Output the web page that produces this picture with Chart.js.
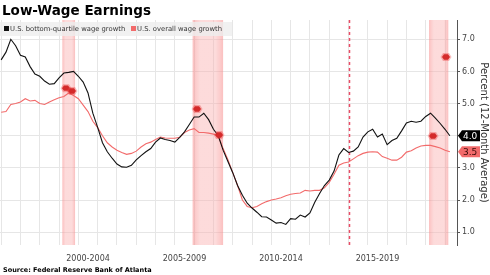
<!DOCTYPE html>
<html>
<head>
<meta charset="utf-8">
<script src="https://cdn.jsdelivr.net/npm/chart.js@4.4.1/dist/chart.umd.min.js"></script>
<style>
  html, body { margin: 0; padding: 0; background: #fff; }
  #wrap { position: relative; width: 490px; height: 275px; }
</style>
</head>
<body>
<div id="wrap"><canvas id="mainChart" width="490" height="275"></canvas></div>
<script>
'use strict';

// quarterly observations, decimal years
const dates = [
    1998, 1998.25, 1998.5, 1998.75, 1999, 1999.25, 1999.5, 1999.75,
    2000, 2000.25, 2000.5, 2000.75, 2001, 2001.25, 2001.5, 2001.75,
    2002, 2002.25, 2002.5, 2002.75, 2003, 2003.25, 2003.5, 2003.75,
    2004, 2004.25, 2004.5, 2004.75, 2005, 2005.25, 2005.5, 2005.75,
    2006, 2006.25, 2006.5, 2006.75, 2007, 2007.25, 2007.5, 2007.75,
    2008, 2008.25, 2008.5, 2008.75, 2009, 2009.25, 2009.5, 2009.75,
    2010, 2010.25, 2010.5, 2010.75, 2011, 2011.25, 2011.5, 2011.75,
    2012, 2012.25, 2012.5, 2012.75, 2013, 2013.25, 2013.5, 2013.75,
    2014, 2014.25, 2014.5, 2014.75, 2015, 2015.25, 2015.5, 2015.75,
    2016, 2016.25, 2016.5, 2016.75, 2017, 2017.25, 2017.5, 2017.75,
    2018, 2018.25, 2018.5, 2018.75, 2019, 2019.25, 2019.5, 2019.75,
    2020, 2020.25, 2020.5, 2020.75, 2021, 2021.25,
];

const bottomQuartile = [
    6.36, 6.6, 7.0, 6.8,    6.5, 6.45, 6.15, 5.92,
    5.85, 5.7, 5.6, 5.62,   5.8, 5.95, 5.97, 6.0,
    5.85, 5.67, 5.33, 4.7,  4.26, 3.78, 3.5, 3.3,
    3.12, 3.03, 3.02, 3.08, 3.25, 3.38, 3.5, 3.6,
    3.8, 3.93, 3.88, 3.85,  3.8, 3.95, 4.12, 4.35,
    4.58, 4.58, 4.7, 4.5,   4.2, 4.0, 3.55, 3.2,
    2.85, 2.45, 2.15, 1.9,  1.75, 1.62, 1.48, 1.47,
    1.38, 1.28, 1.3, 1.24,  1.42, 1.4, 1.53, 1.47,
    1.6, 1.93, 2.2, 2.45,   2.62, 2.9, 3.4, 3.6,
    3.48, 3.52, 3.65, 3.96, 4.12, 4.2, 3.96, 4.05,
    3.72, 3.85, 3.92, 4.15, 4.4, 4.45, 4.42, 4.45,
    4.6, 4.7, 4.55, 4.38,   4.2, 4.0,
];

const overall = [
    4.73, 4.75, 4.97, 5.0,  5.05, 5.15, 5.08, 5.1,
    5.0, 4.97, 5.05, 5.12,  5.18, 5.22, 5.33, 5.25,
    5.15, 4.95, 4.75, 4.45, 4.25, 4.0, 3.78, 3.65,
    3.55, 3.48, 3.42, 3.45, 3.52, 3.65, 3.75, 3.8,
    3.88, 3.96, 3.93, 3.92, 3.92, 3.95, 4.1, 4.18,
    4.22, 4.1, 4.1, 4.08,   4.05, 4.0, 3.6, 3.25,
    2.85, 2.45, 2.0, 1.8,   1.76, 1.8, 1.88, 1.95,
    2.0, 2.03, 2.07, 2.13,  2.18, 2.2, 2.22, 2.3,
    2.28, 2.3, 2.3, 2.38,   2.55, 2.8, 3.08, 3.15,
    3.18, 3.28, 3.38, 3.45, 3.49, 3.5, 3.49, 3.35,
    3.3, 3.24, 3.24, 3.33,  3.49, 3.53, 3.62, 3.68,
    3.7, 3.7, 3.66, 3.62,   3.55, 3.5,
];

const yearLines = [
    1998, 1999, 2000, 2001, 2002, 2003, 2004, 2005, 2006, 2007, 2008, 2009,
    2010, 2011, 2012, 2013, 2014, 2015, 2016, 2017, 2018, 2019, 2020, 2021,
];
const periodCenters = [2002.5, 2007.5, 2012.5, 2017.5];
const periodLabels  = ['2000-2004', '2005-2009', '2010-2014', '2015-2019'];
const yTicks = [1, 2, 3, 4, 5, 6, 7];

const recessions = [[2001.17, 2001.83], [2007.92, 2009.5], [2020.17, 2021.17]];
const dashedAt = 2016.0;

const markerYears  = [2001.36, 2001.67, 2008.15, 2009.29, 2020.38, 2021.05];
const markerValues = [5.48, 5.39, 4.83, 4.02, 3.99, 6.45];

const FONT = 'DejaVu Sans, Verdana, sans-serif';
const BLACK = '#111111';
const RED = '#f26b6b';

const toPoints = vals => vals.map((v, i) => ({ x: dates[i], y: v }));

const decor = {
    id: 'decor',
    beforeDatasetsDraw(chart) {
        const { ctx, chartArea: { top, bottom }, scales: { x } } = chart;
        ctx.save();
        recessions.forEach(([a, b]) => {
            const x0 = x.getPixelForValue(a), x1 = x.getPixelForValue(b);
            const g = ctx.createLinearGradient(x0, 0, x1, 0);
            g.addColorStop(0, 'rgba(248,140,140,0.55)');
            g.addColorStop(0.25, 'rgba(250,175,175,0.45)');
            g.addColorStop(0.75, 'rgba(250,175,175,0.45)');
            g.addColorStop(1, 'rgba(248,140,140,0.55)');
            ctx.fillStyle = g;
            ctx.fillRect(x0, top, x1 - x0, bottom - top);
        });
        const xd = Math.round(x.getPixelForValue(dashedAt)) + 0.5;
        ctx.strokeStyle = '#ea4c66';
        ctx.lineWidth = 1.5;
        ctx.setLineDash([3, 3]);
        ctx.beginPath(); ctx.moveTo(xd, top); ctx.lineTo(xd, bottom); ctx.stroke();
        ctx.restore();
    },
    afterDatasetsDraw(chart) {
        const { ctx, scales: { x, y } } = chart;
        ctx.save();
        markerYears.forEach((yr, i) => {
            const cx = x.getPixelForValue(yr), cy = y.getPixelForValue(markerValues[i]);
            ctx.fillStyle = 'rgba(235,60,60,0.35)';
            ctx.beginPath();
            ctx.moveTo(cx - 5.5, cy); ctx.lineTo(cx - 3, cy - 4); ctx.lineTo(cx + 3, cy - 4);
            ctx.lineTo(cx + 5.5, cy); ctx.lineTo(cx + 3, cy + 4); ctx.lineTo(cx - 3, cy + 4);
            ctx.closePath(); ctx.fill();
            ctx.fillStyle = '#d42a2a';
            ctx.beginPath();
            ctx.moveTo(cx - 4, cy); ctx.lineTo(cx - 2, cy - 2.7); ctx.lineTo(cx + 2, cy - 2.7);
            ctx.lineTo(cx + 4, cy); ctx.lineTo(cx + 2, cy + 2.7); ctx.lineTo(cx - 2, cy + 2.7);
            ctx.closePath(); ctx.fill();
        });
        ctx.restore();
    },
    afterDraw(chart) {
        const { ctx, chartArea: { right }, scales: { y } } = chart;
        ctx.save();
        // title
        ctx.fillStyle = '#000';
        ctx.font = `bold 13.5px ${FONT}`;
        ctx.textBaseline = 'alphabetic';
        ctx.fillText('Low-Wage Earnings', 2, 15);
        // legend band
        ctx.fillStyle = 'rgba(238,238,238,0.8)';
        ctx.fillRect(0, 22, 232, 14);
        ctx.fillStyle = BLACK; ctx.fillRect(4, 26, 5, 5);
        ctx.fillStyle = RED;   ctx.fillRect(131, 26, 5, 5);
        ctx.fillStyle = '#333';
        ctx.font = `6.8px ${FONT}`;
        ctx.textBaseline = 'middle';
        ctx.fillText('U.S. bottom-quartile wage growth', 10, 29);
        ctx.fillText('U.S. overall wage growth', 137, 29);
        // source
        ctx.fillStyle = '#000';
        ctx.font = `bold 6.5px ${FONT}`;
        ctx.textBaseline = 'alphabetic';
        ctx.fillText('Source: Federal Reserve Bank of Atlanta', 3, 272);
        // last-value tags
        const tag = (val, bg, fg) => {
            const cy = y.getPixelForValue(val);
            const x0 = right + 1;
            ctx.fillStyle = bg;
            ctx.beginPath();
            ctx.moveTo(x0, cy); ctx.lineTo(x0 + 4, cy - 5.5); ctx.lineTo(x0 + 22, cy - 5.5);
            ctx.lineTo(x0 + 22, cy + 5.5); ctx.lineTo(x0 + 4, cy + 5.5); ctx.closePath();
            ctx.fill();
            ctx.fillStyle = fg;
            ctx.font = `9px ${FONT}`;
            ctx.textBaseline = 'middle';
            ctx.fillText(val.toFixed(1), x0 + 5, cy + 0.5);
        };
        tag(overall[overall.length - 1], RED, '#3a0a0a');
        tag(bottomQuartile[bottomQuartile.length - 1], '#000', '#fff');
        ctx.restore();
    },
};

new Chart(document.getElementById('mainChart').getContext('2d'), {
    type: 'line',
    data: {
        datasets: [
            { label: 'U.S. bottom-quartile wage growth', data: toPoints(bottomQuartile),
              borderColor: BLACK, borderWidth: 1.1, pointRadius: 0, tension: 0 },
            { label: 'U.S. overall wage growth', data: toPoints(overall),
              borderColor: RED, borderWidth: 1.1, pointRadius: 0, tension: 0 },
        ],
    },
    options: {
        responsive: false,
        animation: false,
        layout: { padding: { top: 20, left: 0, right: 0, bottom: 0 } },
        plugins: { legend: { display: false }, tooltip: { enabled: false } },
        scales: {
            x: {
                type: 'linear', min: 1997.94, max: 2021.62,
                afterBuildTicks(axis) {
                    axis.ticks = [...yearLines, ...periodCenters].sort((a, b) => a - b).map(v => ({ value: v }));
                },
                afterFit(axis) {
                    axis.height = 30;
                    axis.paddingLeft = 0;
                    axis.paddingRight = 0;
                },
                grid: {
                    color: c => Number.isInteger(c.tick && c.tick.value) ? '#e6e6e6' : 'rgba(0,0,0,0)',
                    drawTicks: false,
                },
                border: { display: false },
                ticks: {
                    autoSkip: false, maxRotation: 0, padding: 9,
                    font: { family: FONT, size: 8 }, color: '#444',
                    callback: v => {
                        const i = periodCenters.indexOf(v);
                        return i >= 0 ? periodLabels[i] : '';
                    },
                },
            },
            y: {
                position: 'right', min: 0.6, max: 7.6,
                afterBuildTicks(axis) { axis.ticks = yTicks.map(v => ({ value: v })); },
                afterFit(axis) {
                    axis.width = 33;
                    axis.paddingTop = 0;
                    axis.paddingBottom = 0;
                },
                grid: { color: '#e6e6e6', tickColor: '#555', tickLength: 3 },
                border: { display: true, color: '#555' },
                ticks: {
                    padding: 2, font: { family: FONT, size: 8 }, color: '#444',
                    callback: v => v.toFixed(1),
                },
                title: {
                    display: true, text: 'Percent (12-Month Average)',
                    font: { family: FONT, size: 10 }, color: '#333', padding: 0,
                },
            },
        },
    },
    plugins: [decor],
});
</script>
</body>
</html>
